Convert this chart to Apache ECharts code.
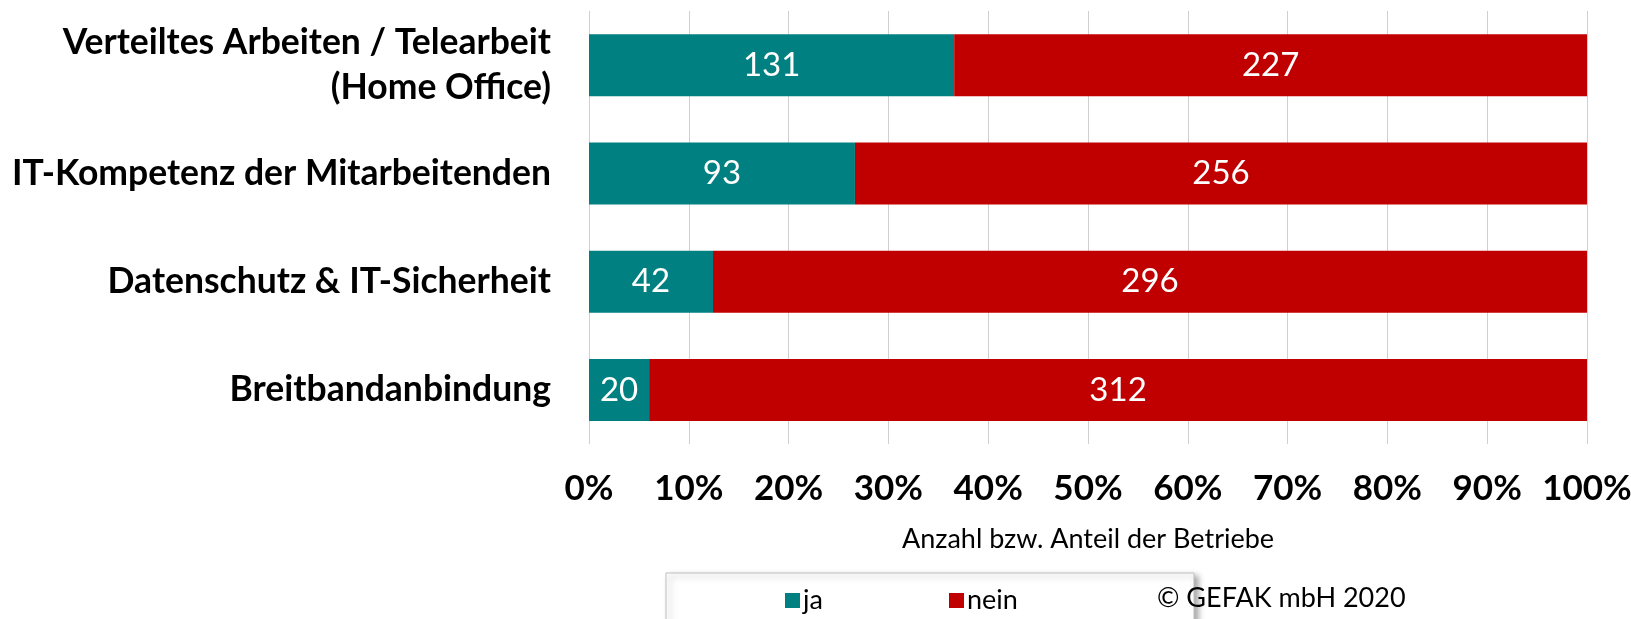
<!DOCTYPE html>
<html>
<head>
<meta charset="utf-8">
<script src="https://cdn.jsdelivr.net/npm/echarts@6/dist/echarts.min.js"></script>
<style>
  html, body { margin: 0; padding: 0; background: #fff; }
  #chart { width: 1631px; height: 619px; }
</style>
</head>
<body>
<div id="chart"></div>
<script>
// Kategorien von oben nach unten
const categories = [
    'Verteiltes Arbeiten / Telearbeit\n(Home Office)',
    'IT-Kompetenz der Mitarbeitenden',
    'Datenschutz & IT-Sicherheit',
    'Breitbandanbindung'
];
const jaValues = [131, 93, 42, 20];
const neinValues = [227, 256, 296, 312];
const tickLabels = ['0%', '10%', '20%', '30%', '40%', '50%', '60%', '70%', '80%', '90%', '100%'];

const FONT = 'Lato, "Open Sans", sans-serif';

// Anteile berechnen (100%-gestapelt), Beschriftung mit absoluten Zahlen
const totals = jaValues.map((v, i) => v + neinValues[i]);
const toShare = (arr) => arr.map((v, i) => ({ value: v / totals[i] * 100, count: v }));

const chart = echarts.init(document.getElementById('chart'));

const legendText = { fontFamily: FONT, fontSize: 27, color: '#000', padding: [0, 0, 0, -2] };

const option = {
    animation: false,
    grid: {
        left: 589,
        right: 44,
        top: 11,
        bottom: 175,
        outerBoundsMode: 'none'
    },
    xAxis: {
        type: 'value',
        min: 0,
        max: 100,
        interval: 10,
        axisLine: { show: false },
        axisTick: { show: false },
        splitLine: { show: true, lineStyle: { color: '#d0d0d0', width: 1 } },
        axisLabel: {
            margin: 27,
            fontFamily: FONT,
            fontWeight: 'bold',
            fontSize: 35,
            color: '#000',
            formatter: (v) => tickLabels[Math.round(v / 10)]
        },
        name: 'Anzahl bzw. Anteil der Betriebe',
        nameLocation: 'middle',
        nameGap: 82,
        nameTextStyle: { fontFamily: FONT, fontSize: 27, color: '#000' }
    },
    yAxis: {
        type: 'category',
        inverse: true,
        data: categories,
        axisLine: { show: false },
        axisTick: { show: false },
        axisLabel: {
            margin: 38,
            fontFamily: FONT,
            fontWeight: 'bold',
            fontSize: 35.5,
            lineHeight: 45,
            color: '#000',
            align: 'right'
        }
    },
    legend: [
        {
            left: 785,
            top: 587,
            padding: 0,
            itemWidth: 15,
            itemHeight: 15,
            icon: 'rect',
            textStyle: legendText,
            data: ['ja']
        },
        {
            left: 949,
            top: 587,
            padding: 0,
            itemWidth: 15,
            itemHeight: 15,
            icon: 'rect',
            textStyle: legendText,
            data: ['nein']
        }
    ],
    graphic: [
        {
            type: 'rect',
            z: -1,
            shape: { x: 666, y: 573, width: 528, height: 70 },
            style: {
                fill: '#fff',
                stroke: '#bfbfbf',
                lineWidth: 1,
                shadowBlur: 6,
                shadowOffsetX: 4,
                shadowOffsetY: 3,
                shadowColor: 'rgba(0,0,0,0.35)'
            }
        },
        {
            type: 'text',
            x: 1157,
            y: 598,
            style: {
                text: '© GEFAK mbH 2020',
                font: '27px ' + FONT,
                fill: '#000',
                verticalAlign: 'middle'
            }
        }
    ],
    series: [
        {
            name: 'ja',
            type: 'bar',
            stack: 'total',
            barWidth: 62,
            itemStyle: { color: '#008080' },
            label: {
                show: true,
                position: 'inside',
                color: '#fff',
                fontFamily: FONT,
                fontSize: 33,
                formatter: (p) => p.data.count
            },
            data: toShare(jaValues)
        },
        {
            name: 'nein',
            type: 'bar',
            stack: 'total',
            barWidth: 62,
            itemStyle: { color: '#c00000' },
            label: {
                show: true,
                position: 'inside',
                color: '#fff',
                fontFamily: FONT,
                fontSize: 33,
                formatter: (p) => p.data.count
            },
            data: toShare(neinValues)
        }
    ]
};

chart.setOption(option);
</script>
</body>
</html>
